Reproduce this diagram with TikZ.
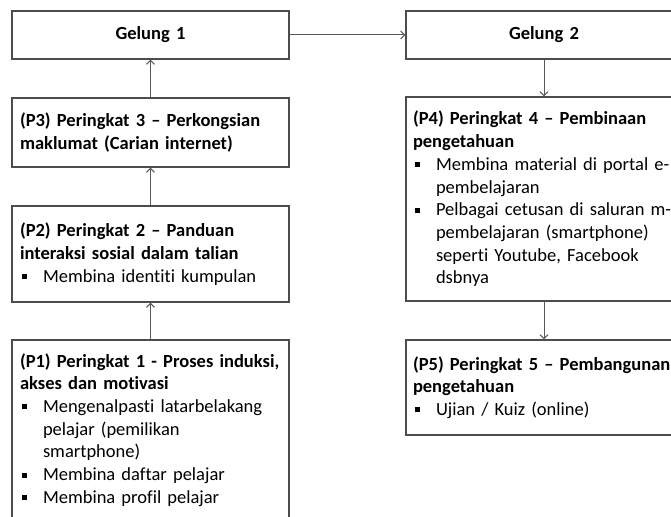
\documentclass[tikz,border=0pt]{standalone}
\usepackage{fontspec}
\setmainfont{Carlito}[Ligatures=NoCommon]
\usetikzlibrary{arrows.meta}

% square bullet and hanging indent for the item lines
\newcommand{\bul}{\hspace*{2pt}\makebox[21pt][l]{\rule[0.17em]{5pt}{5pt}}}
\newcommand{\ind}{\hspace*{23pt}}

\begin{document}
\begin{tikzpicture}[x=1pt, y=-1pt,
  stagebox/.style={draw=black!70, line width=1.2pt, fill=white,
    text width=261pt, inner xsep=8pt, inner ysep=0pt, align=left,
    minimum height=#1, font=\fontsize{18.5}{22.7}\selectfont},
  loopbox/.style={stagebox=48pt, align=center, font=\fontsize{18.5}{22.7}\selectfont\bfseries},
  link/.style={draw=black!65, line width=1pt, -{Straight Barb[length=4pt,width=8pt]}}]
  % page size, right edge cut off as in the original
  \useasboundingbox (0,0) rectangle (671,516);
  \clip (0,0) rectangle (671,516);

  % left column
  \node[loopbox] (gel1) at (150.5,35) {Gelung 1};
  \node[stagebox=69pt] (p3) at (150.5,132.5)
    {\textbf{(P3) Peringkat 3 – Perkongsian}\\\textbf{maklumat (Carian internet)}};
  \node[stagebox=96pt] (p2) at (150.5,254)
    {\textbf{(P2) Peringkat 2 – Panduan}\\\textbf{interaksi sosial dalam talian}\\
     \bul Membina identiti kumpulan};
  \node[stagebox=180pt] (p1) at (150.5,430)
    {\textbf{(P1) Peringkat 1 - Proses induksi,}\\\textbf{akses dan motivasi}\\
     \bul Mengenalpasti latarbelakang\\\ind pelajar (pemilikan\\\ind smartphone)\\
     \bul Membina daftar pelajar\\\bul Membina profil pelajar};

  % right column
  \node[loopbox, inner xsep=7pt, text width=262pt] (gel2) at (544,35) {Gelung 2};
  \node[stagebox=204pt, inner xsep=7pt, text width=262pt] (p4) at (544,199)
    {\textbf{(P4) Peringkat 4 – Pembinaan}\\\textbf{pengetahuan}\\
     \bul Membina material di portal e-\\\ind pembelajaran\\
     \bul Pelbagai cetusan di saluran m-\\\ind pembelajaran (smartphone)\\
     \ind seperti Youtube, Facebook\\\ind dsbnya};
  \node[stagebox=95pt, inner xsep=7pt, text width=262pt] (p5) at (544,387.5)
    {\textbf{(P5) Peringkat 5 – Pembangunan}\\\textbf{pengetahuan}\\
     \bul Ujian / Kuiz (online)};

  % connectors
  \draw[link] (p1) -- (p2);
  \draw[link] (p2) -- (p3);
  \draw[link] (p3) -- (gel1);
  \draw[link] (gel1) -- (gel2);
  \draw[link] (gel2) -- (p4);
  \draw[link] (p4) -- (p5);
\end{tikzpicture}
\end{document}
